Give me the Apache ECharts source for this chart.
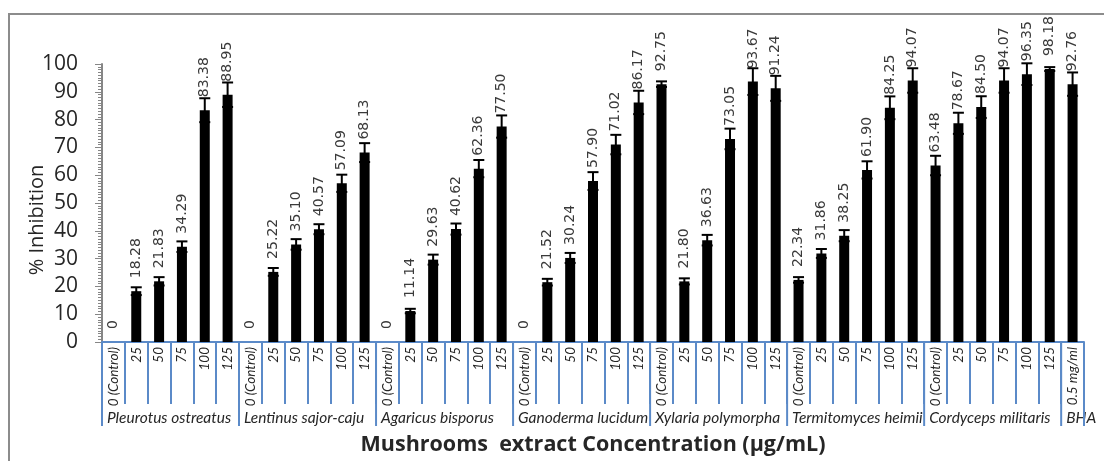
<!DOCTYPE html>
<html>
<head>
<meta charset="utf-8">
<script src="https://cdn.jsdelivr.net/npm/echarts@6/dist/echarts.min.js"></script>
<style>
  html, body { margin: 0; padding: 0; background: #ffffff; }
  #chart { width: 1104px; height: 461px; }
</style>
</head>
<body>
<div id="chart"></div>
<script>
// Concentration levels tested for each mushroom extract (µg/mL)
const concentrations = ['0 (Control)', '25', '50', '75', '100', '125'];
// Reference antioxidant dose
const bhaDose = ['0.5 mg/ml'];
const groupNames = [
  'Pleurotus ostreatus', 'Lentinus sajor-caju', 'Agaricus bisporus',
  'Ganoderma lucidum', 'Xylaria polymorpha', 'Termitomyces heimii',
  'Cordyceps militaris', 'BHA'
];

// % inhibition per concentration, with error-bar half widths
const pleurotusOstreatus = [0, 18.28, 21.83, 34.29, 83.38, 88.95];
const pleurotusErr       = [0, 1.4, 1.5, 1.9, 4.3, 4.4];
const lentinusSajorCaju  = [0, 25.22, 35.10, 40.57, 57.09, 68.13];
const lentinusErr        = [0, 1.4, 1.9, 1.8, 3.1, 3.4];
const agaricusBisporus   = [0, 11.14, 29.63, 40.62, 62.36, 77.50];
const agaricusErr        = [0, 0.8, 1.8, 2.0, 3.1, 4.0];
const ganodermaLucidum   = [0, 21.52, 30.24, 57.90, 71.02, 86.17];
const ganodermaErr       = [0, 1.2, 1.8, 3.2, 3.5, 4.2];
const xylariaPolymorpha  = [92.75, 21.80, 36.63, 73.05, 93.67, 91.24];
const xylariaErr         = [1.0, 1.1, 1.9, 3.7, 4.8, 4.5];
const termitomycesHeimii = [22.34, 31.86, 38.25, 61.90, 84.25, 94.07];
const termitomycesErr    = [1.0, 1.6, 2.0, 3.1, 4.1, 4.4];
const cordycepsMilitaris = [63.48, 78.67, 84.50, 94.07, 96.35, 98.18];
const cordycepsErr       = [3.5, 3.8, 3.9, 4.4, 3.9, 0.7];
const bha                = [92.76];
const bhaErr             = [4.2];

const yTicks = { min: 0, max: 100, interval: 10 };

// Assemble flat category / value lists from the groups
const groupValues = [pleurotusOstreatus, lentinusSajorCaju, agaricusBisporus, ganodermaLucidum,
                     xylariaPolymorpha, termitomycesHeimii, cordycepsMilitaris, bha];
const groupErrors = [pleurotusErr, lentinusErr, agaricusErr, ganodermaErr,
                     xylariaErr, termitomycesErr, cordycepsErr, bhaErr];
const groupLevels = groupNames.map((g, i) => i < 7 ? concentrations : bhaDose);

const categories = [];
const values = [];
const errorData = [];
const groupSpans = [];
groupNames.forEach((g, gi) => {
  const start = categories.length;
  groupLevels[gi].forEach((lvl, k) => {
    const idx = categories.length;
    categories.push(lvl);
    values.push(groupValues[gi][k]);
    errorData.push([idx, groupValues[gi][k], groupErrors[gi][k]]);
  });
  groupSpans.push([start, 0, groupLevels[gi].length, gi]);
});

const axisBlue = '#5B8AC8';
const textDark = '#262626';

const chart = echarts.init(document.getElementById('chart'));
chart.setOption({
  animation: false,
  backgroundColor: '#ffffff',
  grid: { left: 102, right: 20, top: 64, bottom: 116, containLabel: false },
  graphic: [
    {
      type: 'rect', z: -10, silent: true,
      shape: { x: 9, y: 14, width: 1200, height: 600 },
      style: { fill: 'none', stroke: '#8c8c8c', lineWidth: 2 }
    },
    {
      type: 'text', x: 37, y: 220, rotation: Math.PI / 2, silent: true,
      style: {
        text: '% Inhibition', fontFamily: 'Open Sans', fontSize: 20, fill: textDark,
        align: 'center', verticalAlign: 'middle'
      }
    }
  ],
  xAxis: {
    type: 'category',
    data: categories,
    boundaryGap: true,
    name: 'Mushrooms  extract Concentration (µg/mL)',
    nameLocation: 'middle',
    nameGap: 92,
    nameTextStyle: { fontFamily: 'Open Sans', fontWeight: 'bold', fontSize: 21.5, color: textDark },
    axisLine: { lineStyle: { color: axisBlue, width: 2 } },
    axisTick: { show: true, interval: 0, length: 62, alignWithLabel: false,
                lineStyle: { color: axisBlue, width: 2 } },
    axisLabel: {
      interval: 0, rotate: 90, margin: 5,
      fontFamily: 'Lato', fontStyle: 'italic', fontSize: 13.5, color: textDark
    },
    splitLine: { show: false }
  },
  yAxis: {
    type: 'value',
    min: yTicks.min, max: yTicks.max, interval: yTicks.interval,
    axisLine: { show: true, lineStyle: { color: '#868686', width: 2 } },
    axisTick: { show: true, length: 7, lineStyle: { color: '#868686' } },
    minorTick: { show: true, splitNumber: 10, length: 4, lineStyle: { color: '#868686' } },
    axisLabel: { margin: 24, fontFamily: 'Open Sans', fontSize: 21, color: textDark },
    splitLine: { show: false }
  },
  series: [
    {
      type: 'bar',
      data: values,
      barWidth: 10,
      itemStyle: { color: '#000000' },
      label: {
        show: true, position: 'top', distance: 13, rotate: 90,
        align: 'left', verticalAlign: 'middle',
        fontFamily: 'DejaVu Sans', fontSize: 14, color: '#3a3a3a',
        formatter: p => p.value === 0 ? '0' : p.value.toFixed(2)
      },
      z: 2
    },
    {
      // error bars with caps
      type: 'custom',
      data: errorData,
      clip: false,
      z: 3,
      encode: { x: 0, y: 1 },
      renderItem: (params, api) => {
        const idx = api.value(0), v = api.value(1), e = api.value(2);
        if (!e) return null;
        const top = api.coord([idx, v + e]);
        const bot = api.coord([idx, v - e]);
        const hw = 5.5;
        const st = { stroke: '#000000', lineWidth: 2 };
        return {
          type: 'group',
          children: [
            { type: 'line', shape: { x1: top[0], y1: top[1], x2: bot[0], y2: bot[1] }, style: st },
            { type: 'line', shape: { x1: top[0] - hw, y1: top[1], x2: top[0] + hw, y2: top[1] }, style: st },
            { type: 'line', shape: { x1: bot[0] - hw, y1: bot[1], x2: bot[0] + hw, y2: bot[1] }, style: st }
          ]
        };
      }
    },
    {
      // group separators and group names below the concentration labels
      type: 'custom',
      data: groupSpans,
      clip: false,
      silent: true,
      z: 1,
      encode: { x: 0, y: 1 },
      renderItem: (params, api) => {
        const start = api.value(0), size = api.value(2), gi = api.value(3);
        const w = api.size([1, 0])[0];
        const p = api.coord([start, 0]);
        const x0 = p[0] - w / 2, y0 = p[1];
        const st = { stroke: axisBlue, lineWidth: 2 };
        const children = [
          { type: 'line', shape: { x1: x0, y1: y0, x2: x0, y2: y0 + 84 }, style: st },
          {
            type: 'text', x: x0 + 5, y: y0 + 76,
            style: {
              text: groupNames[gi], fontFamily: 'Lato', fontStyle: 'italic', fontSize: 15.5,
              fill: textDark, align: 'left', verticalAlign: 'middle'
            }
          }
        ];
        if (gi === groupNames.length - 1) {
          const x1 = x0 + size * w;
          children.push({ type: 'line', shape: { x1: x1, y1: y0, x2: x1, y2: y0 + 84 }, style: st });
        }
        return { type: 'group', children: children };
      }
    }
  ]
});
</script>
</body>
</html>
